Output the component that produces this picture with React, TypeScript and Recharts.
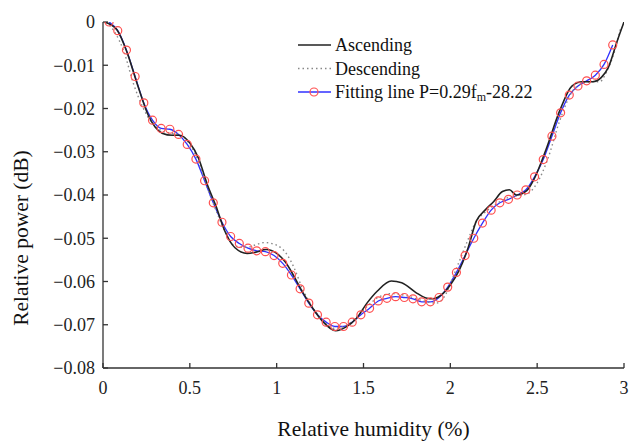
import { LineChart, Line, XAxis, YAxis, Legend, Label } from "recharts";

// Relative humidity positions of the fitted points
const fitX = [
  0.035, 0.085, 0.135, 0.185, 0.235, 0.285, 0.335, 0.385, 0.435, 0.485,
  0.535, 0.585, 0.635, 0.685, 0.735, 0.785, 0.835, 0.885, 0.935, 0.985,
  1.035, 1.085, 1.135, 1.185, 1.235, 1.285, 1.335, 1.385, 1.435, 1.485,
  1.535, 1.585, 1.635, 1.685, 1.735, 1.785, 1.835, 1.885, 1.935, 1.985,
  2.035, 2.085, 2.135, 2.185, 2.235, 2.285, 2.335, 2.385, 2.435, 2.485,
  2.535, 2.585, 2.635, 2.685, 2.735, 2.785, 2.835, 2.885, 2.935,
];
const fitY = [
  0, -0.002, -0.0065, -0.0126, -0.0187, -0.0227, -0.0246, -0.0248, -0.026, -0.0283,
  -0.0317, -0.0367, -0.0418, -0.0463, -0.0496, -0.0512, -0.0523, -0.0529, -0.0531, -0.054,
  -0.0558, -0.0585, -0.0617, -0.065, -0.0677, -0.0694, -0.0704, -0.0704, -0.0694, -0.0677,
  -0.0662, -0.0645, -0.0639, -0.0635, -0.0637, -0.064, -0.0647, -0.0647, -0.0637, -0.0613,
  -0.0579, -0.054, -0.05, -0.0465, -0.0435, -0.0418, -0.041, -0.04, -0.0388, -0.0358,
  -0.0318, -0.0264, -0.021, -0.0169, -0.0148, -0.0136, -0.0123, -0.0098, -0.0053,
];

const ascX = [
  0.01, 0.08, 0.14, 0.2, 0.26, 0.3, 0.34, 0.4, 0.44, 0.5, 0.55, 0.6, 0.65, 0.7, 0.76,
  0.83, 0.88, 0.94, 1.0, 1.05, 1.1, 1.15, 1.2, 1.26, 1.34, 1.4, 1.46, 1.52, 1.58,
  1.66, 1.72, 1.8, 1.86, 1.9, 1.96, 2.0, 2.05, 2.1, 2.15, 2.2, 2.25, 2.3, 2.34,
  2.38, 2.44, 2.48, 2.55, 2.63, 2.7, 2.76, 2.82, 2.87, 2.91, 2.96, 3.0,
];
const ascY = [
  0, -0.0018, -0.0072, -0.0147, -0.0215, -0.0243, -0.0257, -0.0262, -0.0262, -0.028,
  -0.0315, -0.0375, -0.0425, -0.0482, -0.0522, -0.0535, -0.0532, -0.0526, -0.0535, -0.0555,
  -0.0588, -0.0625, -0.0657, -0.069, -0.0714, -0.0705, -0.0685, -0.065, -0.0622,
  -0.0599, -0.0603, -0.0625, -0.0638, -0.064, -0.0627, -0.0608, -0.0575, -0.0525, -0.046,
  -0.0435, -0.0415, -0.0392, -0.0388, -0.04, -0.039, -0.0365, -0.0296, -0.0205, -0.0148,
  -0.0138, -0.0138, -0.0128, -0.0105, -0.0045, 0,
];

const descX = [
  0.02, 0.07, 0.12, 0.175, 0.23, 0.28, 0.34, 0.4, 0.45, 0.5, 0.55, 0.6, 0.65, 0.7,
  0.76, 0.83, 0.88, 0.93, 1.0, 1.06, 1.1, 1.15, 1.2, 1.26, 1.33, 1.4, 1.46, 1.52,
  1.58, 1.66, 1.74, 1.82, 1.88, 1.92, 1.97, 2.02, 2.06, 2.1, 2.15, 2.2, 2.26, 2.32,
  2.38, 2.44, 2.5, 2.56, 2.63, 2.7, 2.76, 2.82, 2.86, 2.9, 2.94, 2.98,
];
const descY = [
  0, -0.0025, -0.0068, -0.0142, -0.0198, -0.0232, -0.0252, -0.0258, -0.0262, -0.0283,
  -0.0322, -0.0382, -0.0435, -0.0482, -0.0518, -0.0521, -0.0515, -0.051, -0.0516, -0.0538,
  -0.0568, -0.0618, -0.0655, -0.0688, -0.0708, -0.0702, -0.0682, -0.0658, -0.0638,
  -0.0628, -0.0632, -0.0642, -0.0648, -0.065, -0.0632, -0.0585, -0.0545, -0.0505, -0.046,
  -0.044, -0.0422, -0.0408, -0.0402, -0.0398, -0.0372, -0.0318, -0.0228, -0.0162,
  -0.0142, -0.0138, -0.0138, -0.0115, -0.0075, -0.0015,
];

const xTicks = [0, 0.5, 1, 1.5, 2, 2.5, 3];
const yTicks = [0, -0.01, -0.02, -0.03, -0.04, -0.05, -0.06, -0.07, -0.08];

const toPoints = (xs: number[], ys: number[]) => xs.map((x, i) => ({ x, y: ys[i] }));
const fitData = toPoints(fitX, fitY);
const ascData = toPoints(ascX, ascY);
const descData = toPoints(descX, descY);

const FONT = "Liberation Serif, Times New Roman, serif";
const AXIS = "#333";

const fmtX = (v: number) => String(v);
const fmtY = (v: number) => (v === 0 ? "0" : "\u2212" + Math.abs(v).toFixed(2));
const noTick = () => <g />;

function LegendBox() {
  const rows = [
    { name: "Ascending", kind: "solid" },
    { name: "Descending", kind: "dot" },
    { name: "fit", kind: "fit" },
  ];
  return (
    <svg width={290} height={72} style={{ overflow: "visible", display: "block" }}>
      {rows.map((r, i) => {
        const y = 12 + i * 23.5;
        return (
          <g key={r.name}>
            {r.kind === "solid" && <line x1={0} x2={33} y1={y} y2={y} stroke="#222" strokeWidth={1.6} />}
            {r.kind === "dot" && (
              <line x1={0} x2={33} y1={y} y2={y} stroke="#888" strokeWidth={1.4} strokeDasharray="1.5 3" />
            )}
            {r.kind === "fit" && (
              <>
                <line x1={0} x2={33} y1={y} y2={y} stroke="#3030ff" strokeWidth={1.3} />
                <circle cx={16} cy={y} r={4} fill="none" stroke="#ff5050" strokeWidth={1.2} />
              </>
            )}
            <text x={37} y={y + 6} fontFamily={FONT} fontSize={18} fill="#111">
              {r.kind === "fit" ? (
                <>
                  Fitting line P=0.29f
                  <tspan fontSize={12} dy={3}>m</tspan>
                  <tspan dy={-3}>-28.22</tspan>
                </>
              ) : (
                r.name
              )}
            </text>
          </g>
        );
      })}
    </svg>
  );
}

export default function App() {
  return (
    <div style={{ position: "absolute", left: 0, top: 0, background: "#fff", fontFamily: FONT }}>
      <LineChart
        width={630}
        height={441}
        margin={{ top: 22, right: 6, bottom: 0, left: 0 }}
        style={{ fontFamily: FONT }}
      >
        <XAxis
          dataKey="x"
          type="number"
          domain={[0, 3]}
          ticks={xTicks}
          tickFormatter={fmtX}
          allowDataOverflow
          height={73}
          stroke={AXIS}
          strokeWidth={1.3}
          tickSize={-5}
          tickMargin={18}
          tick={{ fontSize: 18, fill: "#222", fontFamily: FONT }}
        >
          <Label
            value="Relative humidity (%)"
            position="insideBottom"
            offset={5}
            dx={10}
            style={{ fontFamily: FONT, fontSize: 21.5, fill: "#111" }}
          />
        </XAxis>
        <XAxis
          xAxisId="top"
          orientation="top"
          type="number"
          domain={[0, 3]}
          ticks={xTicks}
          height={0}
          stroke={AXIS}
          strokeWidth={1.3}
          tickSize={-5}
          tick={noTick}
        />
        <YAxis
          dataKey="y"
          type="number"
          domain={[-0.08, 0]}
          ticks={yTicks}
          tickFormatter={fmtY}
          allowDataOverflow
          width={103}
          stroke={AXIS}
          strokeWidth={1.3}
          tickSize={-5}
          tickMargin={13}
          tick={{ fontSize: 18, fill: "#222", fontFamily: FONT }}
        >
          <Label
            value="Relative power (dB)"
            angle={-90}
            position="insideLeft"
            offset={20}
            dy={43}
            style={{ fontFamily: FONT, fontSize: 21.5, fill: "#111", textAnchor: "middle" }}
          />
        </YAxis>
        <YAxis
          yAxisId="right"
          orientation="right"
          type="number"
          domain={[-0.08, 0]}
          ticks={yTicks}
          width={0}
          stroke={AXIS}
          strokeWidth={1.3}
          tickSize={-5}
          tick={noTick}
        />
        <Legend
          layout="horizontal"
          verticalAlign="middle"
          align="center"
          wrapperStyle={{ position: "absolute", left: 298, top: 33, width: 290 }}
          content={() => <LegendBox />}
        />
        <Line
          data={fitData}
          dataKey="y"
          type="monotone"
          stroke="#3030ff"
          strokeWidth={1.3}
          dot={{ r: 4, fill: "none", stroke: "#ff5050", strokeWidth: 1.2 }}
          isAnimationActive={false}
        />
        <Line
          data={descData}
          dataKey="y"
          type="monotone"
          stroke="#888"
          strokeWidth={1.4}
          strokeDasharray="1.5 3"
          dot={false}
          isAnimationActive={false}
        />
        <Line
          data={ascData}
          dataKey="y"
          type="monotone"
          stroke="#222"
          strokeWidth={1.6}
          dot={false}
          isAnimationActive={false}
        />
      </LineChart>
    </div>
  );
}
